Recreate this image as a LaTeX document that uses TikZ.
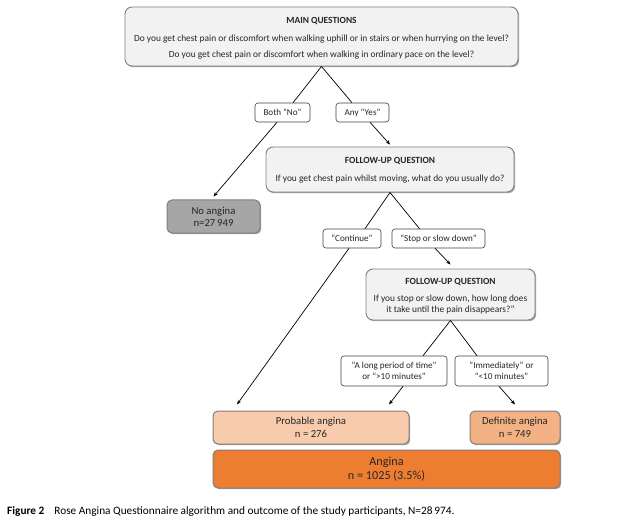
\documentclass[tikz,border=0pt]{standalone}
\usepackage{fontspec}
\setmainfont{Carlito}
\usetikzlibrary{arrows.meta,shadows,calc}
\definecolor{bordergray}{HTML}{7F7F7F}
\definecolor{qfill}{HTML}{F2F2F2}
\definecolor{lblborder}{HTML}{404040}
\definecolor{nofill}{HTML}{A6A6A6}
\definecolor{probfill}{HTML}{F8CBAD}
\definecolor{deffill}{HTML}{F4B183}
\definecolor{angfill}{HTML}{ED7D31}
\definecolor{txt}{HTML}{262626}
\tikzset{
  shade box/.style={drop shadow={shadow xshift=1.2pt,shadow yshift=-1.2pt,opacity=0.35,fill=black}},
  qbox/.style={draw=bordergray, line width=0.9pt, fill=qfill, rounded corners=7pt,
    align=center, inner sep=0pt, shade box, text=txt,
    font=\fontsize{9.4}{10.8}\selectfont},
  lbl/.style={draw=lblborder, line width=0.6pt, fill=white, rounded corners=3pt,
    align=center, inner sep=0pt, minimum height=19pt, text=txt,
    font=\fontsize{9.1}{11}\selectfont},
  outc/.style={draw=bordergray, line width=1pt, rounded corners=5pt,
    align=center, inner sep=0pt, minimum height=33pt, shade box, text=txt,
    font=\fontsize{10.7}{12.8}\selectfont},
  conn/.style={black, line width=0.7pt},
  arr/.style={conn, -{Stealth[length=4.5pt,width=3.5pt]}},
}
\begin{document}
\begin{tikzpicture}[x=1pt,y=-1pt]
\useasboundingbox (0,0) rectangle (628,521);

\node[qbox, minimum width=393pt, minimum height=59pt] (main) at (321.5,36.5)
  {\rule{0pt}{10.5pt}\textbf{MAIN QUESTIONS}\\[7.2pt]
   Do you get chest pain or discomfort when walking uphill or in stairs or when hurrying on the level?\\[5.2pt]
   Do you get chest pain or discomfort when walking in ordinary pace on the level?};

\node[lbl, minimum width=55pt] (bothno) at (282.5,112.5) {Both “No”};
\node[lbl, minimum width=53pt] (anyyes) at (362.5,112.5) {Any “Yes”};

\node[outc, fill=nofill, minimum width=93pt, font=\fontsize{10.7}{12}\selectfont] (noang) at (213.5,216.5) {No angina\\n=27\,949};

\node[qbox, minimum width=248pt, minimum height=45pt] (fu1) at (390,169.5)
  {\rule{0pt}{8.5pt}\textbf{FOLLOW-UP QUESTION}\\[7.2pt]
   If you get chest pain whilst moving, what do you usually do?};

\node[lbl, minimum width=58pt] (cont) at (352,238.5) {“Continue”};
\node[lbl, minimum width=93pt] (stop) at (438.5,238.5) {“Stop or slow down”};

\node[qbox, minimum width=169pt, minimum height=51pt] (fu2) at (450.5,294.5)
  {\rule{0pt}{9pt}\textbf{FOLLOW-UP QUESTION}\\[6.2pt]
   If you stop or slow down, how long does\\
   it take until the pain disappears?”};

\node[lbl, minimum width=106pt, minimum height=30pt] (along) at (394,371)
  {“A long period of time”\\or “>10 minutes”};
\node[lbl, minimum width=93pt, minimum height=30pt] (immed) at (501.5,371)
  {“Immediately” or\\“<10 minutes”};

\node[outc, fill=probfill, minimum width=196pt] (prob) at (311,427.5) {Probable angina\\n = 276};
\node[outc, fill=deffill, minimum width=90pt] (defi) at (515,427.5) {Definite angina\\n = 749};
\node[outc, fill=angfill, minimum width=347pt, minimum height=38pt,
  font=\fontsize{12.2}{14}\selectfont] (ang) at (386.5,469) {Angina\\n = 1025 (3.5\%)};

\node[anchor=base west, inner sep=0pt, font=\fontsize{11.3}{13}\selectfont, text=black] (cap) at (7,514)
  {\textbf{Figure 2}\hspace{10pt}Rose Angina Questionnaire algorithm and outcome of the study participants, N=28\,974.};

% connectors
\draw[conn] (main.south) -- ($(bothno.north)+(10.5,0)$);
\draw[conn] (main.south) -- ($(anyyes.north)+(-10.5,0)$);
\draw[arr] ($(bothno.south)+(-5.5,0)$) -- ($(noang.north)+(0,-3)$);
\draw[arr] ($(anyyes.south)+(7.5,0)$) -- ($(fu1.north)+(0,-2)$);
\draw[conn] (fu1.south) -- ($(cont.north)+(13,0)$);
\draw[conn] (fu1.south) -- ($(stop.north)+(-19,0)$);
\draw[arr] ($(cont.south)+(-3,0)$) -- ($(prob.north)+(-74,-6)$);
\draw[arr] ($(stop.south)+(-3.5,0)$) -- ($(fu2.north)+(0,-4)$);
\draw[conn] (fu2.south) -- ($(along.north)+(29,0)$);
\draw[conn] (fu2.south) -- ($(immed.north)+(-24.5,0)$);
\draw[arr] ($(along.south)+(9,0)$) -- ($(prob.north)+(78,-6)$);
\draw[arr] ($(immed.south)+(-2.5,0)$) -- ($(defi.north)+(0,-6)$);
\end{tikzpicture}
\end{document}
